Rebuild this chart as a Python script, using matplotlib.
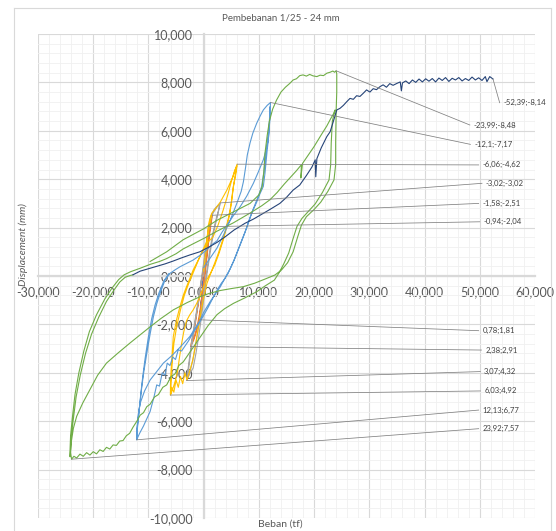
import matplotlib
matplotlib.use("Agg")
import matplotlib.pyplot as plt
from matplotlib.ticker import MultipleLocator, FuncFormatter
from matplotlib.lines import Line2D

plt.rcParams['font.family'] = ['Lato', 'DejaVu Sans']

# load (tf), displacement (mm) pairs for each loading stage
cycle_1mm = [(0.0, 0.0), (0.3, 0.7), (0.6, 1.4), (0.94, 2.04), (0.6, 1.3), (0.3, 0.5), (0.0, -0.3),
             (-0.3, -0.9), (-0.55, -1.4), (-0.78, -1.81), (-0.5, -1.2), (-0.2, -0.5), (0.1, 0.3),
             (0.4, 1.0), (0.7, 1.6), (0.9, 1.95), (0.5, 1.1), (0.1, 0.1), (-0.3, -0.8), (-0.7, -1.7),
             (-0.4, -1.0), (0.0, 0.0)]

cycle_2mm = [(0.0, 0.0), (0.3, 0.9), (0.6, 1.6), (1.0, 2.1), (1.3, 2.35), (1.58, 2.51),
             (1.3, 2.1), (0.9, 1.4), (0.5, 0.6), (0.1, -0.3), (-0.3, -1.1), (-0.8, -1.8), (-1.3, -2.3),
             (-1.8, -2.65), (-2.38, -2.91), (-1.9, -2.4), (-1.4, -1.7), (-0.9, -1.0), (-0.4, -0.2),
             (0.1, 0.6), (0.6, 1.5), (1.0, 2.0), (1.4, 2.4), (1.1, 1.9), (0.7, 1.1), (0.3, 0.3),
             (-0.2, -0.6), (-0.7, -1.5), (-1.2, -2.1), (-1.7, -2.5), (-2.2, -2.8), (-1.6, -2.1),
             (-1.0, -1.2), (-0.5, -0.4), (0.0, 0.3)]

cycle_3mm = [(0.0, 0.0), (0.3, 0.7), (0.6, 1.4), (0.9, 2.0), (1.3, 2.45), (1.9, 2.75), (2.5, 2.9), (3.02, 3.02),
             (2.7, 2.7), (2.2, 2.3), (1.6, 1.7), (1.0, 0.9), (0.5, 0.1), (0.0, -0.7), (-0.5, -1.5),
             (-1.0, -2.2), (-1.5, -2.9), (-1.9, -3.4), (-2.4, -3.9), (-3.07, -4.32),
             (-2.8, -3.8), (-2.4, -3.1), (-1.9, -2.3), (-1.4, -1.6), (-0.9, -0.9), (-0.4, -0.1),
             (0.1, 0.7), (0.6, 1.5), (1.1, 2.2), (1.7, 2.6), (2.4, 2.85), (2.9, 2.95),
             (2.5, 2.5), (1.8, 1.8), (1.2, 1.0), (0.6, 0.1), (0.1, -0.8), (-0.4, -1.7), (-0.9, -2.5),
             (-1.4, -3.2), (-1.9, -3.8), (-2.4, -4.0), (-2.9, -4.2), (-2.6, -3.6), (-2.0, -2.6),
             (-1.4, -1.7), (-0.8, -0.8), (-0.3, 0.0)]

cycle_6mm = [(0.0, 0.2), (0.3, 0.8), (0.5, 1.07), (0.7, 1.6), (0.8, 2.04), (1.1, 2.35), (1.45, 2.59),
             (2.4, 2.86), (3.0, 3.05), (3.55, 3.28), (4.2, 3.55), (4.76, 3.83), (5.3, 4.1), (5.7, 4.38),
             (6.06, 4.62),
             (5.85, 4.24), (5.6, 3.95), (5.36, 3.69), (5.2, 3.4), (5.07, 3.14), (4.9, 2.85), (4.76, 2.59),
             (4.2, 2.05), (3.55, 1.49), (2.8, 0.95), (2.0, 0.45), (1.2, 0.1), (0.5, -0.17), (-0.1, -0.5),
             (-0.7, -0.86), (-1.3, -1.15), (-1.9, -1.4), (-2.5, -1.6), (-3.1, -1.85), (-3.6, -2.3),
             (-4.0, -2.8), (-4.4, -3.4), (-4.7, -3.9), (-5.1, -4.3), (-5.5, -4.6), (-6.03, -4.92),
             (-6.0, -4.4), (-5.9, -3.9), (-5.7, -3.2), (-5.5, -2.5), (-4.9, -1.8), (-4.3, -1.27),
             (-3.7, -0.8), (-3.1, -0.44), (-2.5, -0.1), (-1.9, 0.25), (-1.0, 0.65), (-0.07, 1.07),
             (0.8, 1.4), (1.7, 1.62), (2.6, 2.1), (3.5, 2.7), (4.3, 3.3), (5.0, 3.9), (5.6, 4.35), (6.0, 4.55),
             (5.8, 4.3), (5.4, 3.7), (5.0, 3.0), (4.4, 2.3), (3.6, 1.6), (2.6, 0.9), (1.6, 0.3), (0.6, -0.3),
             (0.0, -0.9), (-0.5, -1.5), (-1.0, -2.2), (-1.5, -2.9), (-2.0, -3.5), (-2.5, -3.9), (-3.0, -4.3),
             (-3.4, -4.0), (-3.8, -4.45), (-4.2, -4.15), (-4.6, -4.6), (-5.0, -4.3), (-5.4, -4.8),
             (-5.8, -4.6), (-6.0, -4.9),
             (-5.9, -4.4), (-5.7, -3.6), (-5.4, -2.8), (-4.9, -2.1), (-4.2, -1.4), (-3.5, -0.8),
             (-2.7, -0.3), (-1.6, 0.3), (-0.5, 0.9), (0.5, 1.4), (1.0, 2.0), (1.4, 2.5)]

cycle_12mm = [(0.0, 0.35), (1.2, 0.75), (2.4, 1.15), (3.6, 1.7), (4.8, 2.3), (6.0, 3.0), (6.8, 3.5),
              (7.2, 3.9), (7.6, 4.5), (7.9, 5.0), (8.4, 5.5), (8.9, 5.9), (9.6, 6.31), (10.2, 6.6),
              (10.8, 6.86), (11.5, 7.05), (12.1, 7.17),
              (12.0, 6.6), (11.9, 6.17), (11.7, 5.6), (11.5, 5.2), (11.3, 4.7), (11.1, 4.24), (10.8, 3.7),
              (10.1, 3.35), (9.6, 3.05), (8.9, 2.7), (8.4, 2.4), (7.8, 2.0), (7.2, 1.65), (6.6, 1.3),
              (6.0, 0.95), (5.4, 0.6), (4.8, 0.3), (4.2, 0.05), (3.6, -0.2), (3.0, -0.45), (2.4, -0.65),
              (1.2, -1.05), (0.0, -1.5), (-0.7, -1.85), (-2.5, -2.5), (-4.3, -2.95), (-5.8, -3.3),
              (-7.3, -3.6), (-8.5, -3.95), (-9.7, -4.3), (-10.7, -4.75), (-11.5, -5.26), (-11.9, -5.8),
              (-12.1, -6.36), (-12.13, -6.77),
              (-12.0, -6.2), (-11.8, -5.8), (-11.5, -5.2), (-11.2, -4.57), (-10.8, -3.9), (-10.3, -3.2),
              (-9.7, -2.4), (-9.1, -1.68), (-8.5, -1.15), (-7.9, -0.72), (-7.0, -0.17), (-6.1, 0.11),
              (-5.2, 0.25), (-4.3, 0.38), (-3.1, 0.52), (-1.9, 0.66), (-0.7, 0.85), (0.5, 1.07),
              (1.5, 1.3), (2.4, 1.45), (3.3, 1.8), (4.2, 2.1), (5.4, 2.5), (6.6, 2.86), (7.8, 3.3),
              (9.0, 3.83), (9.9, 4.3), (10.8, 4.8), (11.3, 5.2), (11.7, 5.62), (11.9, 6.2), (12.0, 6.7),
              (12.05, 7.0),
              (11.9, 6.4), (11.6, 5.7), (11.2, 4.9), (10.9, 4.3), (10.5, 3.7), (9.9, 3.3), (9.2, 2.9),
              (8.6, 2.55), (8.0, 2.15), (7.4, 1.75), (6.8, 1.4), (6.2, 1.05), (5.6, 0.7), (5.0, 0.4),
              (4.4, 0.1), (3.8, -0.12), (3.2, -0.3), (2.6, -0.52), (1.8, -0.85), (0.8, -1.3),
              (-0.3, -1.75), (-1.5, -2.2), (-2.8, -2.7), (-4.0, -3.1), (-4.6, -3.05), (-5.1, -3.45),
              (-5.6, -3.35), (-6.1, -3.7), (-6.6, -3.6), (-7.0, -4.1), (-7.5, -4.0), (-8.0, -4.55),
              (-8.5, -4.5), (-9.0, -5.0), (-9.7, -5.6), (-10.4, -5.95), (-10.9, -6.2), (-11.6, -6.5),
              (-12.1, -6.75),
              (-12.0, -6.3), (-11.7, -5.6), (-11.4, -4.9), (-11.0, -4.1), (-10.6, -3.4), (-10.0, -2.5),
              (-9.4, -1.75), (-8.8, -1.2), (-8.1, -0.7), (-7.2, -0.2), (-6.3, 0.1)]

cycle_24mm = [(-9.7, 0.6), (-6.7, 1.0), (-3.7, 1.5), (0.0, 1.95), (2.4, 2.3), (5.4, 2.65), (8.4, 3.0),
              (10.0, 3.35), (10.6, 3.7), (10.9, 4.3), (11.1, 5.07), (11.5, 5.8), (11.9, 6.4), (12.5, 6.9),
              (13.2, 7.27), (14.0, 7.6), (14.8, 7.8), (15.6, 7.96), (16.2, 8.1), (16.8, 8.15), (17.4, 8.28),
              (18.0, 8.31), (18.6, 8.26), (19.2, 8.33), (19.8, 8.27), (20.5, 8.24), (21.1, 8.3), (21.7, 8.28),
              (22.3, 8.38), (22.9, 8.42), (23.4, 8.47), (23.7, 8.42), (23.99, 8.48),
              (24.1, 8.35), (24.1, 7.6), (24.0, 6.9), (23.9, 5.5), (23.9, 4.6), (23.6, 3.97), (22.5, 3.5),
              (21.2, 3.05), (20.0, 2.75), (18.6, 2.45), (17.7, 2.1), (17.0, 1.6), (16.2, 1.0), (15.2, 0.55),
              (14.1, 0.25), (12.9, 0.04), (11.4, -0.1), (9.2, -0.3), (7.2, -0.44), (5.0, -0.52),
              (3.0, -0.6), (1.0, -0.72), (-0.7, -0.86), (-3.0, -1.1), (-5.5, -1.4), (-7.7, -1.75),
              (-9.7, -2.1), (-11.6, -2.45), (-13.4, -2.78), (-15.6, -3.2), (-17.6, -3.6), (-19.2, -4.1),
              (-20.6, -4.7), (-21.9, -5.25), (-23.0, -5.8), (-23.6, -6.3), (-24.0, -6.9), (-24.2, -7.47),
              (-24.2, -7.2), (-24.1, -6.6), (-23.8, -5.9), (-23.3, -4.9), (-22.6, -4.0), (-21.7, -3.1),
              (-20.7, -2.3), (-19.4, -1.6), (-17.9, -0.95), (-16.6, -0.5), (-15.4, -0.15), (-14.4, 0.05),
              (-13.2, 0.18), (-11.5, 0.32), (-9.7, 0.48), (-8.0, 0.6), (-6.7, 0.72), (-5.0, 0.92),
              (-3.7, 1.12), (-2.0, 1.32), (0.0, 1.55), (2.4, 1.85), (5.4, 2.2), (8.4, 2.6), (10.5, 2.9),
              (12.0, 3.15), (13.3, 3.45), (14.6, 3.8), (15.8, 4.1), (16.8, 4.35), (17.7, 4.6), (17.6, 4.05),
              (17.9, 4.65), (18.8, 4.95), (20.0, 5.35), (21.2, 5.8), (22.3, 6.2), (23.0, 6.5), (23.5, 6.7),
              (23.8, 6.86),
              (23.3, 6.4), (23.1, 5.5), (23.0, 4.6), (22.7, 3.97), (21.5, 3.45), (20.2, 2.98), (19.0, 2.68),
              (17.8, 2.38), (16.9, 2.05), (16.2, 1.55), (15.4, 0.95), (14.5, 0.5), (13.7, 0.15),
              (12.8, -0.17), (11.2, -0.4), (9.6, -0.65), (7.5, -0.9), (5.4, -1.13), (3.8, -1.35),
              (2.4, -1.6), (0.8, -2.05), (-0.7, -2.55), (-2.2, -3.05), (-3.7, -3.55), (-4.5, -3.7),
              (-5.2, -4.05), (-5.9, -4.15), (-6.7, -4.5), (-7.4, -4.6), (-8.2, -4.9), (-8.9, -5.0),
              (-9.7, -5.3), (-10.3, -5.4), (-10.9, -5.65), (-11.5, -5.75), (-12.1, -6.0), (-12.8, -6.25),
              (-13.4, -6.5), (-14.0, -6.6), (-14.6, -6.8), (-15.2, -6.82), (-15.8, -7.0), (-16.4, -6.98),
              (-17.0, -7.15), (-17.6, -7.08), (-18.2, -7.25), (-18.8, -7.18), (-19.4, -7.35), (-20.0, -7.26),
              (-20.6, -7.4), (-21.2, -7.3), (-21.8, -7.45), (-22.4, -7.36), (-23.0, -7.52), (-23.5, -7.45),
              (-23.92, -7.57),
              (-24.1, -7.3), (-24.0, -6.7), (-23.65, -6.0), (-23.1, -5.0), (-22.35, -4.1), (-21.4, -3.2),
              (-20.3, -2.4), (-19.0, -1.7), (-17.6, -1.05), (-16.3, -0.6), (-15.2, -0.25), (-14.2, -0.05),
              (-13.3, 0.02), (-12.8, 0.05)]

monotonic = [(-12.8, 0.05), (-11.5, 0.2), (-10.0, 0.3), (-8.5, 0.4), (-7.0, 0.5), (-5.5, 0.62),
             (-4.0, 0.75), (-2.5, 0.87), (-0.7, 1.0), (1.0, 1.2), (2.5, 1.4), (3.9, 1.62), (5.5, 1.9),
             (7.5, 2.18), (9.0, 2.35), (10.5, 2.55), (12.0, 2.75), (13.8, 3.0), (15.0, 3.25), (16.2, 3.55),
             (17.4, 3.76), (18.6, 4.15), (19.6, 4.5), (20.2, 4.8), (20.3, 4.1), (20.5, 4.85), (21.3, 5.3),
             (22.3, 5.76), (22.9, 5.96), (23.5, 6.4), (24.1, 6.86), (24.7, 6.93), (25.3, 7.05), (25.9, 7.2),
             (26.5, 7.34), (27.1, 7.3), (27.7, 7.45), (28.3, 7.42), (28.9, 7.55), (29.5, 7.69), (30.1, 7.6),
             (30.7, 7.74), (31.3, 7.7), (31.9, 7.82), (32.5, 7.9), (33.1, 7.8), (33.7, 7.95), (34.3, 7.88),
             (35.0, 7.96), (35.6, 8.02), (35.8, 7.65), (36.0, 7.98), (36.6, 8.06), (37.2, 7.95), (37.8, 8.1),
             (38.4, 8.0), (39.0, 8.14), (39.6, 8.02), (40.2, 8.15), (40.8, 8.05), (41.4, 8.16), (42.0, 8.02),
             (42.6, 8.18), (43.2, 8.08), (43.8, 8.2), (44.4, 8.04), (45.0, 8.17), (45.6, 8.1), (46.2, 8.2),
             (46.8, 8.06), (47.4, 8.16), (48.0, 8.08), (48.6, 8.22), (49.2, 8.1), (49.8, 8.19), (50.4, 8.08),
             (51.0, 8.24), (51.3, 8.03), (51.8, 8.24), (52.39, 8.14)]

# data labels as recorded (sign reversed relative to the plotted curves)
label_load = [-52.39, -23.99, -12.1, -6.06, -3.02, -1.58, -0.94, 0.78, 2.38, 3.07, 6.03, 12.13, 23.92]
label_disp = [-8.14, -8.48, -7.17, -4.62, -3.02, -2.51, -2.04, 1.81, 2.91, 4.32, 4.92, 6.77, 7.57]

series = [
    (cycle_1mm, '#4472C4'),
    (cycle_2mm, '#ED7D31'),
    (cycle_3mm, '#A5A5A5'),
    (cycle_6mm, '#FFC000'),
    (cycle_12mm, '#5B9BD5'),
    (cycle_24mm, '#70AD47'),
    (monotonic, '#264478'),
]

# where the label texts sit (load, disp)
label_text_x = [54.3, 48.9, 49.0, 50.5, 51.1, 50.5, 50.7, 50.5, 51.0, 50.8, 50.8, 50.5, 50.5]
label_text_y = [7.16, 6.24, 5.44, 4.59, 3.83, 3.0, 2.24, -2.26, -3.06, -3.95, -4.75, -5.54, -6.31]

W, H = 556, 531
fig = plt.figure(figsize=(W / 100, H / 100), dpi=100)
ax = fig.add_axes([38 / W, 13 / H, 497 / W, 484 / H])

for pts, color in series:
    xs = [p[0] for p in pts]
    ys = [p[1] for p in pts]
    ax.plot(xs, ys, color=color, lw=0.8, zorder=3)


def fmt_num(v):
    return f"{v:g}".replace('.', ',')


for lx, ly, tx, ty in zip(label_load, label_disp, label_text_x, label_text_y):
    px, py = -lx, -ly
    ax.plot([px, tx - 0.7], [py, ty], color='#808080', lw=0.55, zorder=4)
    ax.text(tx, ty, f"{fmt_num(lx)};{fmt_num(ly)}", fontsize=5.6, color='#404040',
            ha='left', va='center', zorder=5, clip_on=False)

ax.set_xlim(-30, 60)
ax.set_ylim(-10, 10)
ax.xaxis.set_major_locator(MultipleLocator(10))
ax.xaxis.set_minor_locator(MultipleLocator(2))
ax.yaxis.set_major_locator(MultipleLocator(2))
ax.yaxis.set_minor_locator(MultipleLocator(0.4))


def axis_fmt(v, _):
    if abs(v) < 1e-9:
        v = 0.0
    return f"{v:.3f}".replace('.', ',')


ax.xaxis.set_major_formatter(FuncFormatter(axis_fmt))
ax.yaxis.set_major_formatter(FuncFormatter(axis_fmt))

ax.grid(which='major', color='#d9d9d9', lw=0.8, zorder=0)
ax.grid(which='minor', color='#f0f0f0', lw=0.6, zorder=0)
ax.set_axisbelow(True)

for side in ['top', 'right']:
    ax.spines[side].set_visible(False)
ax.spines['left'].set_position(('data', 0))
ax.spines['bottom'].set_position(('data', 0))
for side in ['left', 'bottom']:
    ax.spines[side].set_color('#d9d9d9')
    ax.spines[side].set_linewidth(1.6)
    ax.spines[side].set_zorder(1)

ax.tick_params(which='both', length=0, labelsize=9, colors='#595959')
ax.tick_params(axis='x', pad=7)
ax.tick_params(axis='y', pad=8)

fig.text(281 / W, 1 - 18 / H, 'Pembebanan 1/25 - 24 mm', ha='center', va='center',
         fontsize=7, color='#595959')
fig.text(23 / W, 1 - 245 / H, 'Displacement (mm)', rotation=90, ha='center', va='center',
         fontsize=7.5, color='#595959', style='italic')
fig.text(280 / W, 1 - 520 / H, 'Beban (tf)', ha='center', va='top', fontsize=7.5, color='#595959')

# chart area border
border = dict(color='#d9d9d9', lw=0.8, transform=fig.transFigure)
fig.add_artist(Line2D([14 / W, 14 / W], [0, 1 - 8 / H], **border))
fig.add_artist(Line2D([14 / W, 551 / W], [1 - 8 / H, 1 - 8 / H], **border))
fig.add_artist(Line2D([551 / W, 551 / W], [0, 1 - 8 / H], **border))

fig.savefig('out.png', dpi=100)
